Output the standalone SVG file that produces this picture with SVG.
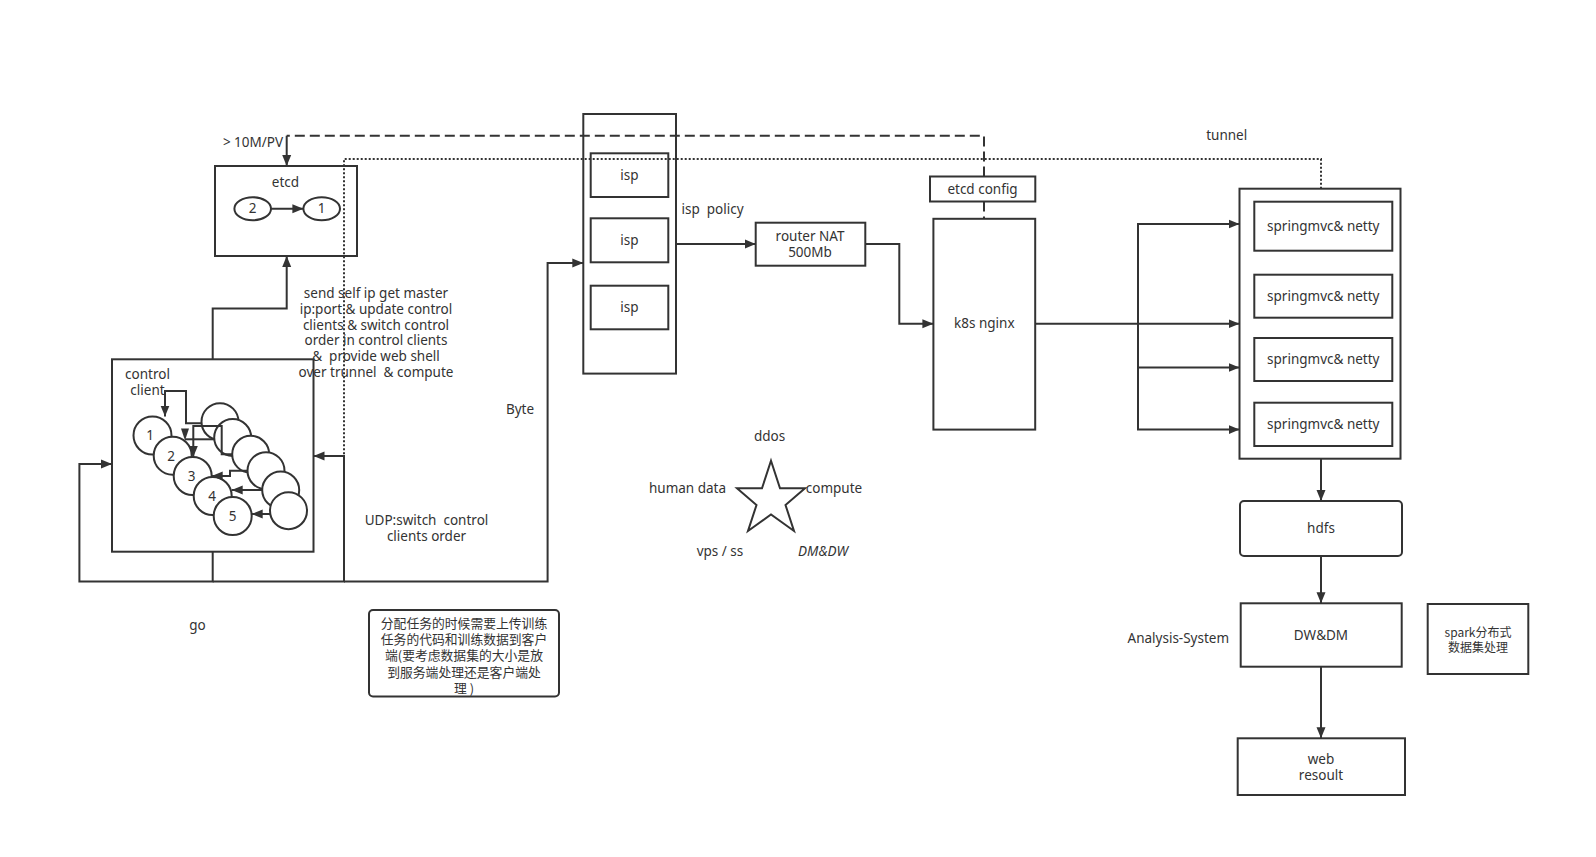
<svg xmlns="http://www.w3.org/2000/svg" width="1596" height="857" viewBox="0 0 1596 857">
<style>
text{font-family:"Noto Sans","Noto Sans CJK SC",sans-serif;font-size:13.5px;fill:#333;text-anchor:middle;white-space:pre}
.b{fill:#fff;stroke:#333;stroke-width:2}
.n{fill:none;stroke:#333;stroke-width:2}
.c{fill:none;stroke:#333;stroke-width:2}
.a{marker-end:url(#arr)}
.dash{stroke-dasharray:10 5}
.dot{stroke-dasharray:2 2}
.cj{font-family:"Noto Sans CJK SC",sans-serif;font-size:12.8px}
.sp{font-family:"Noto Sans CJK SC",sans-serif;font-size:12px}
</style>
<defs>
<marker id="arr" markerWidth="12" markerHeight="10" refX="11" refY="5" orient="auto" markerUnits="userSpaceOnUse">
<path d="M0,0.5 L11,5 L0,9.5 z" fill="#333"/>
</marker>
</defs>
<rect width="1596" height="857" fill="#fff"/>

<text x="253" y="147">&gt; 10M/PV</text>

<g id="etcd">
<rect class="b" x="215" y="166" width="142" height="90"/>
<text x="285.5" y="186.5">etcd</text>
<ellipse class="b" cx="252.7" cy="208.7" rx="18.3" ry="11.5"/>
<text x="252.7" y="213.2">2</text>
<ellipse class="b" cx="321.7" cy="208.7" rx="18.3" ry="11.5"/>
<text x="321.7" y="213.2">1</text>
<path class="c a" d="M271,208.7 H303.4"/>
</g>

<g id="control-client">
<rect class="b" x="112" y="359.3" width="201.5" height="192.4"/>
<text x="147.5" y="379"><tspan x="147.5">control</tspan><tspan x="147.5" dy="16">client</tspan></text>
</g>
<g id="c1"><circle class="b" cx="152.5" cy="435.5" r="19"/><text x="150" y="440">1</text></g>
<g id="c2"><circle class="b" cx="172.7" cy="455.7" r="19"/><text x="171" y="461">2</text></g>
<g id="c3"><circle class="b" cx="192.7" cy="476" r="19"/><text x="191.5" y="481">3</text></g>
<g id="c4"><circle class="b" cx="212.7" cy="496" r="19"/><text x="212" y="501">4</text></g>
<g id="c5"><circle class="b" cx="232.7" cy="516" r="19"/><text x="232.5" y="521">5</text></g>
<g id="c6"><circle class="b" cx="220" cy="421.7" r="18.5"/></g>
<g id="c7"><circle class="b" cx="232.7" cy="437.5" r="18.5"/></g>
<g id="c8"><circle class="b" cx="250.7" cy="454.3" r="18.5"/></g>
<g id="c9"><circle class="b" cx="266" cy="470.7" r="18.5"/></g>
<g id="c10"><circle class="b" cx="280.7" cy="490" r="18.5"/></g>
<g id="c11"><circle class="b" cx="288.5" cy="510.7" r="18.5"/></g>

<g id="isp-group">
<rect class="b" x="583.3" y="114" width="92.7" height="259.6"/>
</g>
<g id="isp1"><rect class="b" x="590.7" y="153.3" width="77.6" height="43.7"/><text x="629.5" y="179.5">isp</text></g>
<g id="isp2"><rect class="b" x="590.7" y="218.3" width="77.6" height="44"/><text x="629.5" y="244.5">isp</text></g>
<g id="isp3"><rect class="b" x="590.7" y="285.7" width="77.6" height="43.6"/><text x="629.5" y="312">isp</text></g>

<g id="router"><rect class="b" x="755.7" y="222.7" width="109.6" height="43"/>
<text x="810" y="241"><tspan x="810">router NAT</tspan><tspan x="810" dy="16">500Mb</tspan></text></g>

<g id="etcd-config"><rect class="b" x="930" y="176.5" width="105.3" height="25"/><text x="982.5" y="193.5">etcd config</text></g>
<g id="k8s-nginx"><rect class="b" x="933.4" y="218.8" width="101.8" height="210.8"/><text x="984.3" y="328">k8s nginx</text></g>

<g id="spring-container"><rect class="b" x="1239.5" y="188.7" width="161" height="270"/></g>
<g id="spring1"><rect class="b" x="1254.3" y="201.7" width="138" height="49"/><text x="1323.3" y="231">springmvc&amp; netty</text></g>
<g id="spring2"><rect class="b" x="1254.3" y="274.7" width="138" height="43"/><text x="1323.3" y="301">springmvc&amp; netty</text></g>
<g id="spring3"><rect class="b" x="1254.3" y="338" width="138" height="43"/><text x="1323.3" y="364">springmvc&amp; netty</text></g>
<g id="spring4"><rect class="b" x="1254.3" y="402.7" width="138" height="43.3"/><text x="1323.3" y="429">springmvc&amp; netty</text></g>

<g id="hdfs"><rect class="b" x="1240" y="501" width="162" height="55" rx="4"/><text x="1321" y="533">hdfs</text></g>
<g id="dwdm"><rect class="b" x="1240.7" y="603.3" width="161" height="63.4"/><text x="1321" y="640">DW&amp;DM</text></g>
<g id="web"><rect class="b" x="1237.7" y="738.3" width="167.3" height="56.7"/><text x="1321" y="764"><tspan x="1321">web</tspan><tspan x="1321" dy="16">resoult</tspan></text></g>
<g id="spark"><rect class="b" x="1427.7" y="604" width="100.6" height="70"/><text class="sp" x="1478" y="636.5"><tspan x="1478">spark分布式</tspan><tspan x="1478" dy="15.5">数据集处理</tspan></text></g>
<text x="1178.3" y="643">Analysis-System</text>

<g id="note"><rect class="b" x="369" y="610" width="190" height="86.5" rx="4"/>
<text class="cj" x="464" y="627.8"><tspan x="464">分配任务的时候需要上传训练</tspan><tspan x="464" dy="16.3">任务的代码和训练数据到客户</tspan><tspan x="464" dy="16.3">端(要考虑数据集的大小是放</tspan><tspan x="464" dy="16.3">到服务端处理还是客户端处</tspan><tspan x="464" dy="16.3">理 )</tspan></text>
</g>

<g id="star">
<path class="n" d="M771,460.7 L780,488.3 L805,488.3 L785.5,505 L794,531 L771,514.5 L748,531 L756.5,505 L737,488.3 L762,488.3 Z"/>
</g>
<text x="769.5" y="441">ddos</text>
<text x="687.5" y="493">human data</text>
<text x="834" y="493">compute</text>
<text x="720" y="556">vps / ss</text>
<text x="823" y="556" font-style="italic">DM&amp;DW</text>

<text x="376" y="298"><tspan x="376">send self ip get master</tspan><tspan x="376" dy="15.8">ip:port &amp; update control</tspan><tspan x="376" dy="15.8">clients &amp; switch control</tspan><tspan x="376" dy="15.8">order in control clients</tspan><tspan x="376" dy="15.8">&amp;  provide web shell</tspan><tspan x="376" dy="15.8">over trunnel  &amp; compute</tspan></text>
<text x="520" y="413.5">Byte</text>
<text x="426.5" y="524.5"><tspan x="426.5">UDP:switch  control</tspan><tspan x="426.5" dy="16">clients order</tspan></text>
<text x="197.5" y="629.5">go</text>
<text x="712.5" y="213.5">isp  policy</text>
<text x="1226.7" y="139.5">tunnel</text>

<g id="connectors">
<path class="c dash" d="M984,176.5 V135.7 H286.7"/>
<path class="c a" d="M286.7,135.7 V166"/>
<path class="c dash" d="M984,201.5 V218.8"/>
<path class="c dot" d="M1321,188.7 V159 H344 V456"/>
<path class="c a" d="M212.7,359.3 V308.4 H286.7 V256"/>
<path class="c a" d="M212.7,551.7 V581.5 H79.4 V464 H112"/>
<path class="c a" d="M212.7,581.5 H344 V456 H313.5"/>
<path class="c a" d="M344,581.5 H547.6 V263 H583.3"/>
<path class="c a" d="M676,244 H755.7"/>
<path class="c a" d="M865.3,244 H899.3 V323.7 H933.4"/>
<path class="c a" d="M1035.2,323.7 H1138 V224 H1239.5"/>
<path class="c a" d="M1138,323.7 H1239.5"/>
<path class="c a" d="M1138,323.7 V429.6 H1239.5"/>
<path class="c a" d="M1138,367.5 H1239.5"/>
<path class="c a" d="M1321,458.7 V501"/>
<path class="c a" d="M1321,556 V603.3"/>
<path class="c a" d="M1321,666.7 V738.3"/>
<path class="c a" d="M201.5,423.3 H186 V391 H165 V416.5"/>
<path class="c a" d="M232.2,454.3 H221.7 V426 H193.3 V457"/>
<path class="c" d="M214.2,439.3 H185"/>
<path d="M181,428.5 L189,428.5 L185,440.5 Z" fill="#333"/>
<path class="c a" d="M247.5,470.7 H230 V476 H211.7"/>
<path class="c a" d="M262.2,490 H231.7"/>
<path class="c a" d="M270,514 H251.7"/>
</g>
</svg>
